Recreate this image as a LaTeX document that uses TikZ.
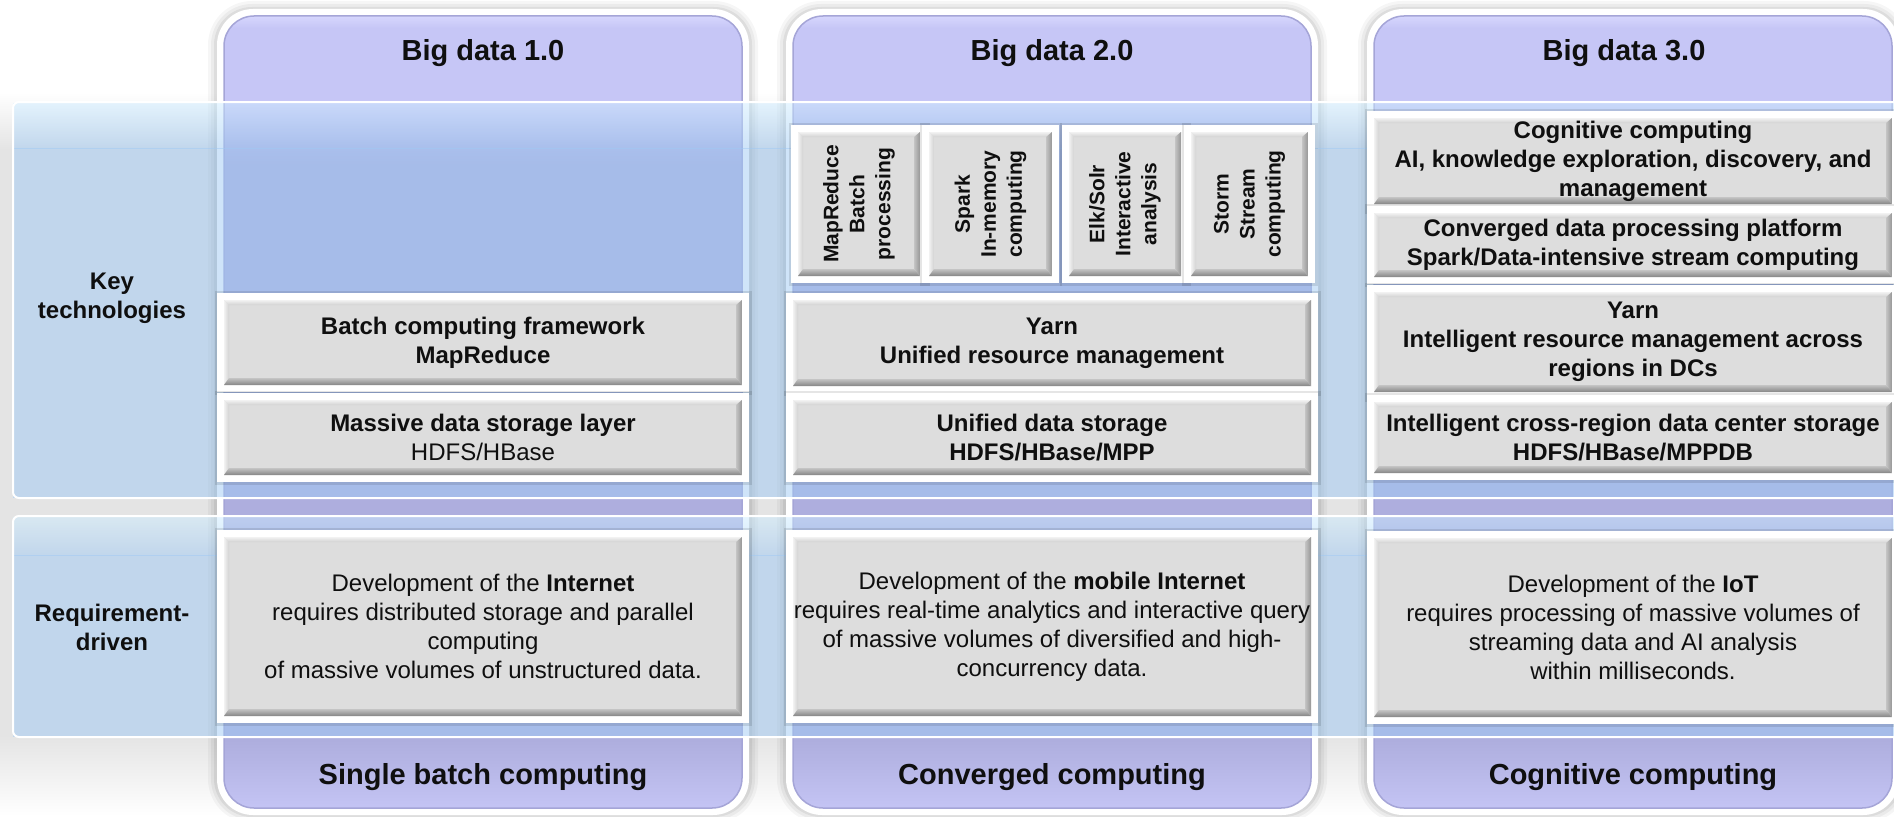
\documentclass[tikz,border=0pt]{standalone}
\usepackage{fontspec}
\setmainfont{Liberation Sans}
\usetikzlibrary{calc}
\definecolor{bggray}{RGB}{228,228,228}
\definecolor{purtop}{RGB}{198,198,246}
\definecolor{purhi}{RGB}{214,214,253}
\definecolor{purmid}{RGB}{174,174,222}
\definecolor{purbot}{RGB}{196,196,244}
\definecolor{purline}{RGB}{165,165,215}
\definecolor{bandblue}{RGB}{160,202,244}
\definecolor{bandtop}{RGB}{205,236,255}
\definecolor{boxgray}{RGB}{221,221,221}
\definecolor{bevA}{RGB}{242,242,242}
\definecolor{bevB}{RGB}{210,210,210}
\definecolor{bevC}{RGB}{196,196,196}
\definecolor{bevD}{RGB}{133,133,133}
\definecolor{bevE}{RGB}{150,150,150}
\definecolor{txt}{RGB}{15,15,15}
\newcommand{\myfs}[2]{\fontsize{#1}{#2}\selectfont}
\tikzset{
  gbox/.style={rectangle, inner sep=0pt, fill=boxgray, text=txt, align=center,
    preaction={draw=black, draw opacity=0.10, line width=19pt},
    preaction={draw=white, line width=14pt},
    path picture={
      \path (path picture bounding box.north west) coordinate (pnw)
            (path picture bounding box.north east) coordinate (pne)
            (path picture bounding box.south west) coordinate (psw)
            (path picture bounding box.south east) coordinate (pse);
      \shade[top color=bevA, bottom color=bevB] (pnw) -- (pne) -- ($(pne)+(-6pt,-5pt)$) -- ($(pnw)+(5pt,-5pt)$) -- cycle;
      \shade[left color=bevA, right color=bevB] (pnw) -- ($(pnw)+(5pt,-5pt)$) -- ($(psw)+(5pt,7pt)$) -- (psw) -- cycle;
      \shade[top color=bevC, bottom color=bevD] (psw) -- ($(psw)+(5pt,7pt)$) -- ($(pse)+(-6pt,7pt)$) -- (pse) -- cycle;
      \shade[left color=bevC, right color=bevE] (pne) -- (pse) -- ($(pse)+(-6pt,7pt)$) -- ($(pne)+(-6pt,-5pt)$) -- cycle;
    }},
  boldtxt/.style={font=\bfseries\myfs{24}{29}},
  regtxt/.style={font=\myfs{24}{29}},
  vtxt/.style={font=\bfseries\myfs{21}{26}, text=txt, align=center, rotate=90, inner sep=0pt},
  headtxt/.style={font=\bfseries\myfs{29}{34}, text=txt, inner sep=0pt},
  lbltxt/.style={font=\bfseries\myfs{24}{29}, text=txt, align=center, inner sep=0pt},
}
\begin{document}
\begin{tikzpicture}[x=1pt,y=-1pt]
\useasboundingbox (0,0) rectangle (1894,816);
\fill[white] (0,0) rectangle (1894,816);
% background grey
\shade[top color=white, bottom color=bggray] (0,92) rectangle (1894,150);
\fill[bggray] (0,150) rectangle (1894,735);
\shade[top color=bggray, bottom color=white] (0,735) rectangle (1894,816);

% columns
\foreach \x in {217,786,1367} {
  \fill[black, opacity=0.035, rounded corners=44pt] (\x-9,1) rectangle (\x+541,823);
  \fill[black, opacity=0.045, rounded corners=41pt] (\x-6,4) rectangle (\x+538,820);
  \fill[black, opacity=0.06, rounded corners=38pt] (\x-3,7) rectangle (\x+535,817);
  \fill[white, rounded corners=36pt] (\x,9) rectangle (\x+532,815);
  \begin{scope}
    \clip[rounded corners=30pt] (\x+7,16) rectangle (\x+525,808);
    \shade[top color=purhi, bottom color=purtop] (\x+7,16) rectangle (\x+525,28);
    \fill[purtop] (\x+7,28) rectangle (\x+525,100);
    \shade[top color=purtop, bottom color=purmid] (\x+7,100) rectangle (\x+525,165);
    \fill[purmid] (\x+7,165) rectangle (\x+525,740);
    \shade[top color=purmid, bottom color=purbot] (\x+7,740) rectangle (\x+525,808);
  \end{scope}
  \draw[purline, line width=1.5pt, rounded corners=30pt] (\x+7,16) rectangle (\x+525,808);
}

% translucent bands
\begin{scope}[fill opacity=0.5]
  \shade[top color=bandtop, bottom color=bandblue] (13,103) rectangle (1894,148);
  \fill[bandblue] (13,148) rectangle (1894,498);
  \shade[top color=bandtop, bottom color=bandblue] (13,517) rectangle (1894,555);
  \fill[bandblue] (13,555) rectangle (1894,737);
\end{scope}
\draw[white, line width=2pt, rounded corners=6pt] (1900,102) -- (13,102) -- (13,498) -- (1900,498);
\draw[white, line width=2pt, rounded corners=6pt] (1900,516) -- (13,516) -- (13,737) -- (1900,737);

% headings
\node[headtxt] (h1) at (483,53) {Big data 1.0};
\node[headtxt] (h2) at (1052,53) {Big data 2.0};
\node[headtxt] (h3) at (1624,53) {Big data 3.0};
\node[headtxt] (f1) at (483,777) {Single batch computing};
\node[headtxt] (f2) at (1052,777) {Converged computing};
\node[headtxt] (f3) at (1633,777) {Cognitive computing};

% left labels
\node[lbltxt] (kt) at (112,298) {Key\\technologies};
\node[lbltxt] (rd) at (112,627) {Requirement-\\driven};

% column 1
\node[gbox, boldtxt, minimum width=518pt, minimum height=85pt] (c1a) at (483,342.5)
  {Batch computing framework\\MapReduce};
\node[gbox, boldtxt, minimum width=518pt, minimum height=75pt] (c1b) at (483,437.5)
  {Massive data storage layer\\\mdseries HDFS/HBase};
\node[gbox, regtxt, minimum width=518pt, minimum height=179pt] (c1r) at (483,626.5)
  {Development of the \textbf{Internet}\\requires distributed storage and parallel\\computing\\of massive volumes of unstructured data.};

% column 2
\node[gbox, minimum width=122pt, minimum height=144pt] (c2v1) at (859,204) {};
\node[gbox, minimum width=123pt, minimum height=144pt] (c2v2) at (990.5,204) {};
\node[gbox, minimum width=112pt, minimum height=144pt] (c2v3) at (1125,204) {};
\node[gbox, minimum width=117pt, minimum height=144pt] (c2v4) at (1249.5,204) {};
\node[vtxt] (t2v1) at (c2v1) {MapReduce\\Batch\\processing};
\node[vtxt] (t2v2) at (c2v2) {Spark\\In-memory\\computing};
\node[vtxt] (t2v3) at (c2v3) {Elk/Solr\\Interactive\\analysis};
\node[vtxt] (t2v4) at (c2v4) {Storm\\Stream\\computing};
\node[gbox, boldtxt, minimum width=518pt, minimum height=86pt] (c2a) at (1052,343)
  {Yarn\\Unified resource management};
\node[gbox, boldtxt, minimum width=518pt, minimum height=75pt] (c2b) at (1052,437.5)
  {Unified data storage\\HDFS/HBase/MPP};
\node[gbox, regtxt, minimum width=518pt, minimum height=179pt] (c2r) at (1052,626.5)
  {Development of the \textbf{mobile Internet}\\requires real-time analytics and interactive query\\of massive volumes of diversified and high-\\concurrency data.};

% column 3
\node[gbox, boldtxt, minimum width=518pt, minimum height=86pt] (c3a) at (1633,161)
  {Cognitive computing\\AI, knowledge exploration, discovery, and\\management};
\node[gbox, boldtxt, minimum width=518pt, minimum height=64pt] (c3b) at (1633,245)
  {Converged data processing platform\\Spark/Data-intensive stream computing};
\node[gbox, boldtxt, minimum width=518pt, minimum height=100pt] (c3c) at (1633,342)
  {Yarn\\Intelligent resource management across\\regions in DCs};
\node[gbox, boldtxt, minimum width=518pt, minimum height=71pt] (c3d) at (1633,437.5)
  {Intelligent cross-region data center storage\\HDFS/HBase/MPPDB};
\node[gbox, regtxt, minimum width=518pt, minimum height=179pt] (c3r) at (1633,627.5)
  {Development of the \textbf{IoT}\\requires processing of massive volumes of\\streaming data and AI analysis\\within milliseconds.};
\end{tikzpicture}
\end{document}
